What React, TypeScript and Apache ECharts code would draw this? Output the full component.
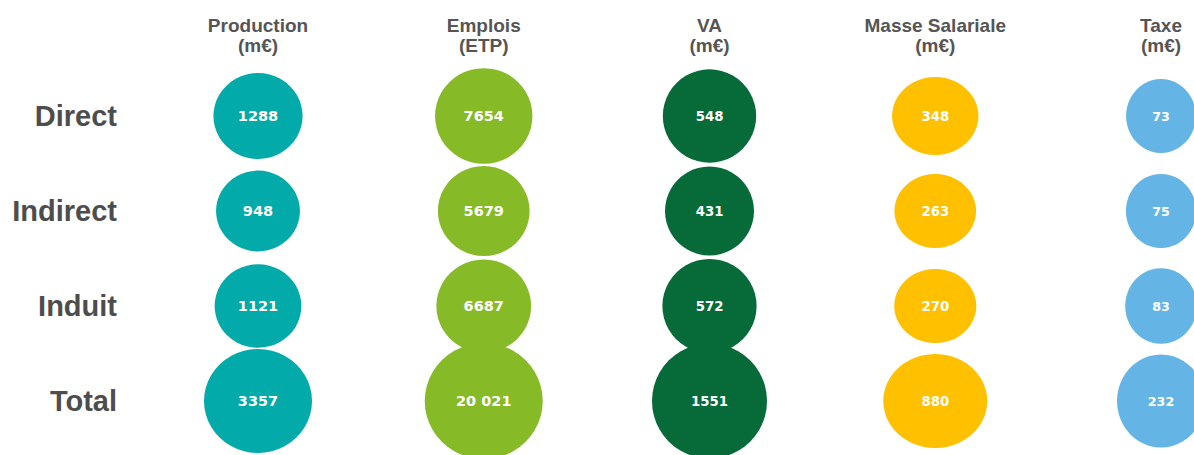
import React, { useEffect, useRef } from "react";
import * as echarts from "echarts";

// ---- Data ----
const rowCategories = ["Direct", "Indirect", "Induit", "Total"];
const columnTitles = [
  "Production\n(m€)",
  "Emplois\n(ETP)",
  "VA\n(m€)",
  "Masse Salariale\n(m€)",
  "Taxe\n(m€)",
];
const production = [1288, 948, 1121, 3357];
const emplois = [7654, 5679, 6687, 20021];
const va = [548, 431, 572, 1551];
const masseSalariale = [348, 263, 270, 880];
const taxe = [73, 75, 83, 232];

const columns = [production, emplois, va, masseSalariale, taxe];

// ---- Styles ----
const colors = ["#02AAAA", "#86BB27", "#066B38", "#FFC000", "#64B5E5"];
// ellipse size [w, h] for the largest value in each column
const maxEllipse: [number, number][] = [
  [108, 104],
  [118, 116],
  [115, 115],
  [104, 94],
  [88, 93],
];
const labelSizes = [14.5, 14.5, 13.3, 13.3, 12.7];

const fmt = (v: number) =>
  v >= 10000 ? String(v).replace(/\B(?=(\d{3})+(?!\d))/g, " ") : String(v);

export default function App() {
  const ref = useRef<HTMLDivElement>(null);

  useEffect(() => {
    if (!ref.current) return;
    const chart = echarts.init(ref.current, undefined, { renderer: "svg" });

    const series = columns.map((vals, c) => {
      const maxV = Math.max(...vals);
      const [W, H] = maxEllipse[c];
      return {
        type: "scatter",
        name: columnTitles[c],
        data: vals.map((v, r) => [c, r, v]),
        symbol: "circle",
        symbolSize: (d: number[]) => {
          const k = Math.pow(d[2] / maxV, 0.2);
          return [W * k, H * k];
        },
        itemStyle: { color: colors[c], opacity: 1 },
        label: {
          show: true,
          position: "inside",
          formatter: (p: any) => fmt(p.value[2]),
          color: "#ffffff",
          fontFamily: "DejaVu Sans",
          fontWeight: "bold",
          fontSize: labelSizes[c],
        },
        emphasis: { disabled: true },
      };
    });

    chart.setOption({
      animation: false,
      backgroundColor: "#ffffff",
      grid: { left: 258, right: 33, top: 116, bottom: 54, containLabel: false },
      xAxis: {
        type: "category",
        position: "top",
        data: columnTitles,
        boundaryGap: false,
        axisLine: { show: false },
        axisTick: { show: false },
        splitLine: { show: false },
        axisLabel: {
          interval: 0,
          margin: 61,
          fontFamily: "Liberation Sans",
          fontWeight: "bold",
          fontSize: 19,
          lineHeight: 20,
          color: "#555555",
          align: "center",
        },
      },
      yAxis: {
        type: "category",
        data: rowCategories,
        inverse: true,
        boundaryGap: false,
        axisLine: { show: false },
        axisTick: { show: false },
        splitLine: { show: false },
        axisLabel: {
          interval: 0,
          margin: 141,
          fontFamily: "Liberation Sans",
          fontWeight: "bold",
          fontSize: 29,
          color: "#4D4D4D",
        },
      },
      series,
    });

    return () => chart.dispose();
  }, []);

  return (
    <div
      ref={ref}
      style={{ position: "absolute", left: 0, top: 0, width: 1194, height: 455 }}
    />
  );
}
